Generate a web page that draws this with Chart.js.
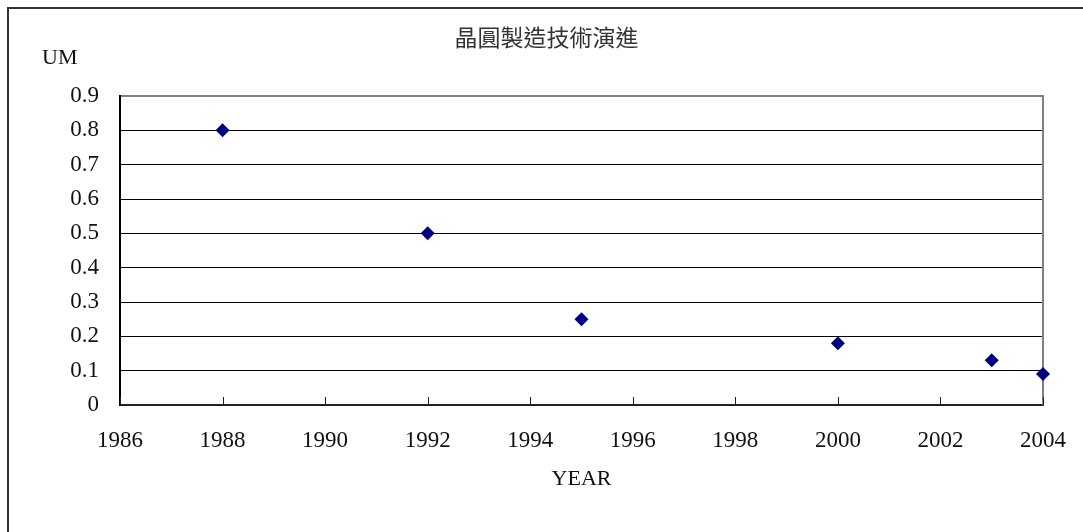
<!DOCTYPE html>
<html>
<head>
<meta charset="utf-8">
<script src="https://cdn.jsdelivr.net/npm/chart.js@4/dist/chart.umd.min.js"></script>
<style>
  html, body { margin: 0; padding: 0; background: #fff; }
  #wrap { width: 1083px; height: 532px; position: relative; }
</style>
</head>
<body>
<div id="wrap"><canvas id="c" width="1083" height="532"></canvas></div>
<script>
// Process node (µm) by year of introduction
const years = [1988, 1992, 1995, 2000, 2003, 2004];
const nodeUm = [0.8, 0.5, 0.25, 0.18, 0.13, 0.09];

const chartTitle = '晶圓製造技術演進';
const yUnit = 'UM';
const xTitle = 'YEAR';

const serif = '"Liberation Serif", "Times New Roman", serif';

// Outer frame, plot frame and inward x-axis tick marks
const framePlugin = {
  id: 'frame',
  beforeDraw(chart) {
    const ctx = chart.ctx;
    ctx.save();
    ctx.fillStyle = '#fff';
    ctx.fillRect(0, 0, chart.width, chart.height);
    ctx.strokeStyle = '#333';
    ctx.lineWidth = 2;
    ctx.beginPath();
    ctx.moveTo(8, chart.height + 2);
    ctx.lineTo(8, 8);
    ctx.lineTo(chart.width + 2, 8);
    ctx.stroke();
    ctx.restore();
  },
  beforeDatasetsDraw(chart) {
    const ctx = chart.ctx;
    const a = chart.chartArea;
    const xs = chart.scales.x;
    ctx.save();
    // right edge of the plot area
    ctx.strokeStyle = '#808080';
    ctx.lineWidth = 2;
    ctx.beginPath();
    ctx.moveTo(a.right, a.top - 1);
    ctx.lineTo(a.right, a.bottom);
    ctx.stroke();
    // tick marks pointing up into the plot
    ctx.strokeStyle = '#222';
    ctx.lineWidth = 1;
    xs.ticks.forEach(t => {
      const px = Math.round(xs.getPixelForValue(t.value)) + 0.5;
      ctx.beginPath();
      ctx.moveTo(px, a.bottom);
      ctx.lineTo(px, a.bottom - 8);
      ctx.stroke();
    });
    // unit label above the value axis
    ctx.fillStyle = '#111';
    ctx.font = '22px ' + serif;
    ctx.textAlign = 'left';
    ctx.textBaseline = 'alphabetic';
    ctx.fillText(yUnit, 42, 64);
    ctx.restore();
  }
};

new Chart(document.getElementById('c'), {
  type: 'scatter',
  data: {
    datasets: [{
      data: years.map((y, i) => ({ x: y, y: nodeUm[i] })),
      pointStyle: 'rectRot',
      pointRadius: 7,
      pointHoverRadius: 7,
      backgroundColor: '#000080',
      borderColor: '#000080',
      borderWidth: 0,
      clip: false
    }]
  },
  plugins: [framePlugin],
  options: {
    responsive: false,
    animation: false,
    layout: { padding: { left: 50, right: 40, top: 0, bottom: 0 } },
    plugins: {
      legend: { display: false },
      tooltip: { enabled: false },
      title: {
        display: true,
        text: chartTitle,
        color: '#333',
        font: { family: '"Noto Sans CJK TC", "Noto Sans CJK SC", sans-serif', size: 23, weight: 'normal', lineHeight: 1.2 },
        padding: { top: 23, bottom: 45.4 }
      }
    },
    scales: {
      x: {
        type: 'linear',
        min: 1986,
        max: 2004,
        ticks: {
          stepSize: 2,
          color: '#111',
          padding: 22,
          font: { family: serif, size: 23 },
          callback: v => String(v)
        },
        grid: { display: false, drawTicks: false },
        border: { display: true, color: '#222', width: 2 },
        title: {
          display: true,
          text: xTitle,
          color: '#111',
          font: { family: serif, size: 22 },
          padding: { top: 0, bottom: 40 }
        },
        afterFit(scale) {
          scale.height = 127;
          scale.paddingLeft = 0;
          scale.paddingRight = 0;
        }
      },
      y: {
        min: 0,
        max: 0.9,
        ticks: {
          stepSize: 0.1,
          color: '#111',
          padding: 21,
          font: { family: serif, size: 23 },
          callback: v => String(Math.round(v * 10) / 10)
        },
        grid: {
          drawTicks: false,
          color: ctx => (ctx.index === 9 ? '#808080' : '#000'),
          lineWidth: ctx => (ctx.index === 9 ? 2 : 1)
        },
        border: { display: true, color: '#000', width: 2 },
        afterFit(scale) { scale.width = 70; }
      }
    }
  }
});
</script>
</body>
</html>
